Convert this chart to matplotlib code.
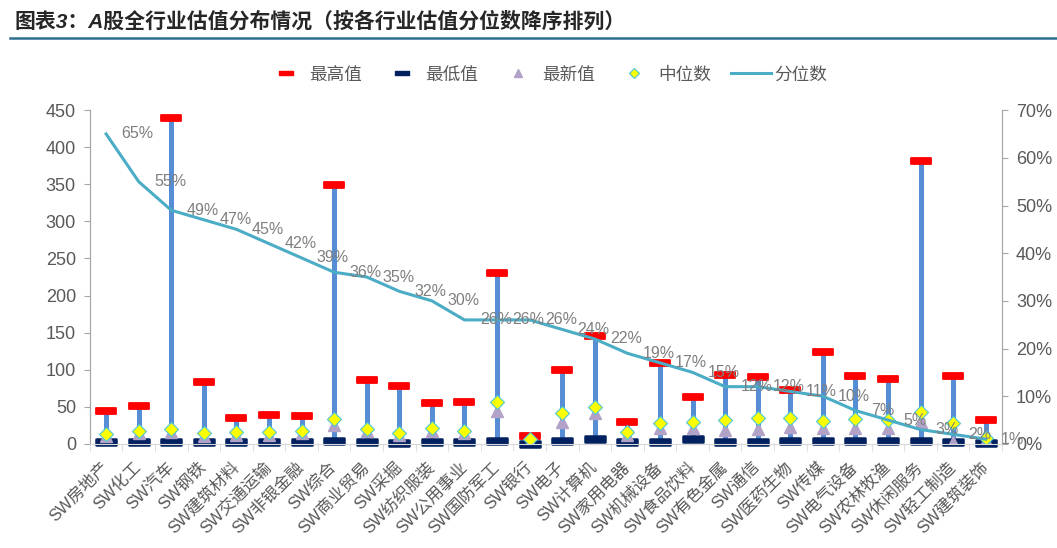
import numpy as np
import matplotlib.pyplot as plt
from matplotlib.markers import MarkerStyle
from matplotlib.path import Path
from matplotlib.lines import Line2D

plt.rcParams['font.family'] = ['Liberation Sans', 'Noto Sans CJK SC', 'DejaVu Sans']

# 行业及估值数据（按分位数降序）
industries = ['SW房地产', 'SW化工', 'SW汽车', 'SW钢铁', 'SW建筑材料', 'SW交通运输',
              'SW非银金融', 'SW综合', 'SW商业贸易', 'SW采掘', 'SW纺织服装', 'SW公用事业',
              'SW国防军工', 'SW银行', 'SW电子', 'SW计算机', 'SW家用电器', 'SW机械设备',
              'SW食品饮料', 'SW有色金属', 'SW通信', 'SW医药生物', 'SW传媒', 'SW电气设备',
              'SW农林牧渔', 'SW休闲服务', 'SW轻工制造', 'SW建筑装饰']
high_vals = [44, 51, 439, 83, 35, 39, 38, 349, 86, 78, 55, 56,
             231, 11, 99, 145, 29, 109, 63, 93, 90, 73, 124, 92,
             88, 381, 92, 32]
low_vals = [2, 3, 3, 2, 2, 3, 2, 4, 3, 1, 3, 3,
            4, 0.5, 4, 6, 3, 3, 7, 3, 3, 4, 4, 4,
            4, 4, 3, 1]
latest_vals = [10, 15, 16, 11, 12, 12, 14, 26, 17, 12, 17, 15,
               45, 3, 30, 42, 12, 21, 22, 19, 20, 23, 22, 22,
               22, 30, 3, 5]
median_vals = [13, 18, 20, 15, 16, 16, 17, 33, 20, 15, 21, 18,
               56, 6, 41, 50, 16, 28, 29, 32, 35, 35, 31, 33,
               32, 43, 28, 8]
pct_vals = [0.65, 0.55, 0.49, 0.47, 0.45, 0.42, 0.39, 0.36, 0.35, 0.32, 0.30, 0.26,
            0.26, 0.26, 0.24, 0.22, 0.19, 0.17, 0.15, 0.12, 0.12, 0.11, 0.10, 0.07,
            0.05, 0.03, 0.02, 0.01]

gray = '#595959'
x = np.arange(len(industries))

# 圆角矩形标记
cap_path = Path([(-1, -0.3), (1, -0.3), (1, 0.3), (-1, 0.3), (-1, -0.3)],
                [Path.MOVETO, Path.LINETO, Path.LINETO, Path.LINETO, Path.CLOSEPOLY])
cap = MarkerStyle(cap_path, joinstyle='round')

fig = plt.figure(figsize=(10.57, 5.48), dpi=100)
ax = fig.add_axes([0.085, 0.19, 0.863, 0.609])
ax2 = ax.twinx()

ax.vlines(x, low_vals, high_vals, color='#558ED5', lw=3.6, zorder=1)
ax.plot(x, high_vals, ls='none', marker=cap, ms=15, mfc='#FF0000', mec='#FF0000',
        mew=1.3, zorder=3, clip_on=False)
ax.plot(x, low_vals, ls='none', marker=cap, ms=15, mfc='#002060', mec='#002060',
        mew=1.8, zorder=3, clip_on=False)
ax.plot(x, latest_vals, ls='none', marker='^', ms=9, mfc='#B3A2C7', mec='#B3A2C7',
        zorder=4)
ax.plot(x, median_vals, ls='none', marker='D', ms=7, mfc='#FFFF00', mec='#4BC6D8',
        mew=0.8, zorder=5)

ax2.plot(x, pct_vals, color='#4BACC6', lw=2.2)
for xi, p in zip(x, pct_vals):
    ax2.annotate(f'{p:.0%}', (xi, p), xytext=(11, 0), textcoords='offset points',
                 ha='left', va='center', fontsize=11.5, color='#7F7F7F')

ax.set_xlim(-0.5, len(industries) - 0.5)
ax.set_ylim(0, 450)
ax.set_yticks(np.arange(0, 451, 50))
ax2.set_ylim(0, 0.7)
ax2.set_yticks(np.arange(0, 0.71, 0.1))
ax2.set_yticklabels([f'{v:.0%}' for v in np.arange(0, 0.71, 0.1)])

ax.set_xticks(x)
ax.set_xticklabels(industries, rotation=45, ha='right', va='center',
                   rotation_mode='anchor', fontsize=12, color=gray)
ax.tick_params(axis='x', length=0, pad=15)
ax.set_xticks(np.arange(-0.5, len(industries), 1), minor=True)
ax.tick_params(axis='x', which='minor', length=5, color='#D9D9D9')

ax.tick_params(axis='y', labelsize=13, labelcolor=gray, color='#A6A6A6', length=4, pad=6)
ax2.tick_params(axis='y', labelsize=13, labelcolor=gray, color='#A6A6A6', length=4, pad=6)

for a in (ax, ax2):
    a.spines['top'].set_visible(False)
    a.spines['left'].set_color('#A6A6A6')
    a.spines['right'].set_color('#A6A6A6')
    a.spines['bottom'].set_color('#D9D9D9')

handles = [
    Line2D([], [], ls='none', marker=cap, ms=10, mfc='#FF0000', mec='#FF0000', mew=1),
    Line2D([], [], ls='none', marker=cap, ms=10, mfc='#002060', mec='#002060', mew=1),
    Line2D([], [], ls='none', marker='^', ms=6, mfc='#B3A2C7', mec='#B3A2C7'),
    Line2D([], [], ls='none', marker='D', ms=5.5, mfc='#FFFF00', mec='#4BC6D8', mew=0.8),
    Line2D([], [], color='#4BACC6', lw=2.2),
]
fig.legend(handles, ['最高值', '最低值', '最新值', '中位数', '分位数'],
           loc='center', bbox_to_anchor=(0.517, 0.863), ncol=5, frameon=False,
           fontsize=12.7, labelcolor=gray, handlelength=2.26, columnspacing=1.13,
           handletextpad=0.2)

fig.text(0.014, 0.96, '图表3：A股全行业估值分布情况（按各行业估值分位数降序排列）',
         fontsize=15, fontweight='bold', style='italic', color='#262626',
         ha='left', va='center')
fig.add_artist(Line2D([0.009, 1.0], [0.931, 0.931], color='#2E6E8E', lw=1.8))

fig.savefig('out.png', dpi=100)
